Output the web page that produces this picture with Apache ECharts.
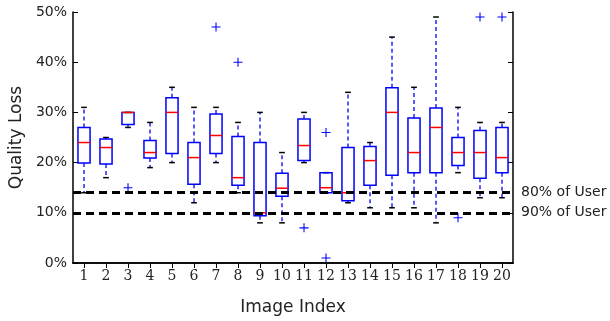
<!DOCTYPE html>
<html><head><meta charset="utf-8">
<script src="https://cdn.jsdelivr.net/npm/echarts@6/dist/echarts.min.js"></script>
<style>html,body{margin:0;padding:0;background:#fff}#c{width:610px;height:321px}</style>
</head><body><div id="c"></div>
<script>
const categories = ['1','2','3','4','5','6','7','8','9','10','11','12','13','14','15','16','17','18','19','20'];
const lowerWhisker = [14, 17, 27, 19, 20, 12, 20, 14, 8, 8, 20, 14, 12, 11, 11, 11, 8, 18, 13, 13];
const q1           = [19.9, 19.7, 27.6, 20.9, 21.8, 15.7, 21.8, 15.5, 9.4, 13.3, 20.4, 14, 12.4, 15.5, 17.5, 18, 18, 19.4, 16.9, 18];
const median       = [24, 23, 30, 22, 30, 21, 25.4, 17, 10, 14.9, 23.4, 15, 14, 20.4, 30, 22, 27, 22, 22, 21];
const q3           = [27, 24.7, 30, 24.4, 32.9, 24, 29.7, 25.2, 24, 17.9, 28.7, 18, 23, 23.2, 34.9, 28.9, 30.9, 25, 26.4, 27];
const upperWhisker = [31, 25, 30, 28, 35, 31, 31, 28, 30, 22, 30, 18, 34, 24, 45, 35, 49, 31, 28, 28];
const outliers = [[2, 15], [6, 47], [7, 40], [10, 7], [11, 26], [11, 1], [17, 9], [18, 49], [19, 49]];
const yTicks = [0, 10, 20, 30, 40, 50];
const refLines = [{value: 14, label: '80% of User'}, {value: 10, label: '90% of User'}];

const boxData = categories.map((c, i) => [i, lowerWhisker[i], q1[i], median[i], q3[i], upperWhisker[i]]);
const BLUE = '#0000ff', RED = '#ff0000';

const chart = echarts.init(document.getElementById('c'), null, {renderer: 'canvas'});
const sansFont = '"DejaVu Sans", sans-serif';
chart.setOption({
  animation: false,
  grid: {left: 73, right: 97, top: 12, bottom: 58},
  xAxis: [{
    type: 'category', data: categories, position: 'bottom',
    axisLine: {lineStyle: {color: '#000', width: 1.5}},
    axisTick: {inside: true, alignWithLabel: true, interval: 0, length: 5, lineStyle: {color: '#000'}},
    axisLabel: {interval: 0, hideOverlap: false, fontFamily: '"DejaVu Serif", "Liberation Serif", serif', fontSize: 14, color: '#222', margin: 6},
    name: 'Image Index', nameLocation: 'middle', nameGap: 36,
    nameTextStyle: {fontFamily: sansFont, fontSize: 17, color: '#222'}
  }, {
    type: 'category', data: categories, position: 'top',
    axisLine: {lineStyle: {color: '#000', width: 1.5}},
    axisTick: {show: true, inside: true, alignWithLabel: true, interval: 0, length: 5, lineStyle: {color: '#000'}},
    axisLabel: {show: false}
  }],
  yAxis: [{
    type: 'value', min: 0, max: 50, interval: 10, position: 'left',
    axisLine: {show: true, lineStyle: {color: '#000', width: 1.5}},
    axisTick: {show: true, inside: true, length: 5, lineStyle: {color: '#000'}},
    splitLine: {show: false},
    axisLabel: {formatter: v => v + '%', fontFamily: sansFont, fontSize: 14, color: '#222', margin: 6},
    name: 'Quality Loss', nameLocation: 'middle', nameGap: 46,
    nameTextStyle: {fontFamily: sansFont, fontSize: 17, color: '#222'}
  }, {
    type: 'value', min: 0, max: 50, interval: 10, position: 'right',
    axisLine: {show: true, lineStyle: {color: '#000', width: 1.5}},
    axisTick: {show: true, inside: true, length: 5, lineStyle: {color: '#000'}},
    splitLine: {show: false},
    axisLabel: {show: false}
  }],
  series: [{
    type: 'custom',
    data: boxData,
    encode: {x: 0, y: [1, 2, 3, 4, 5]},
    renderItem: function (params, api) {
      const i = api.value(0);
      const pLo = api.coord([i, api.value(1)]);
      const pQ1 = api.coord([i, api.value(2)]);
      const pMed = api.coord([i, api.value(3)]);
      const pQ3 = api.coord([i, api.value(4)]);
      const pHi = api.coord([i, api.value(5)]);
      const band = api.size([1, 0])[0];
      const bw = band * 0.55, cw = band * 0.26;
      const x = pMed[0];
      const children = [];
      const dash = {stroke: BLUE, lineWidth: 1.3, lineDash: [4, 3]};
      if (pHi[1] < pQ3[1] - 0.5) children.push({type: 'line', shape: {x1: x, y1: pQ3[1], x2: x, y2: pHi[1]}, style: dash});
      if (pLo[1] > pQ1[1] + 0.5) children.push({type: 'line', shape: {x1: x, y1: pQ1[1], x2: x, y2: pLo[1]}, style: dash});
      children.push({type: 'line', shape: {x1: x - cw / 2, y1: pHi[1], x2: x + cw / 2, y2: pHi[1]}, style: {stroke: '#000', lineWidth: 1.5}});
      children.push({type: 'line', shape: {x1: x - cw / 2, y1: pLo[1], x2: x + cw / 2, y2: pLo[1]}, style: {stroke: '#000', lineWidth: 1.5}});
      children.push({type: 'rect', shape: {x: x - bw / 2, y: pQ3[1], width: bw, height: pQ1[1] - pQ3[1]}, style: {fill: 'none', stroke: BLUE, lineWidth: 1.5}});
      children.push({type: 'line', shape: {x1: x - bw / 2, y1: pMed[1], x2: x + bw / 2, y2: pMed[1]}, style: {stroke: RED, lineWidth: 1.5}});
      return {type: 'group', children: children};
    },
    z: 3,
    markLine: {
      silent: true, symbol: 'none',
      lineStyle: {color: '#000', width: 3, type: [8, 5]},
      label: {show: true, position: 'end', distance: 8, color: '#222', fontFamily: sansFont, fontSize: 14, formatter: p => p.name},
      data: refLines.map(r => ({yAxis: r.value, name: r.label}))
    }
  }, {
    type: 'scatter',
    data: outliers,
    symbol: 'path://M4.4,0H5.6V4.4H10V5.6H5.6V10H4.4V5.6H0V4.4H4.4Z',
    symbolSize: 9,
    itemStyle: {color: BLUE, opacity: 1},
    z: 4
  }]
});
</script>
</body></html>
